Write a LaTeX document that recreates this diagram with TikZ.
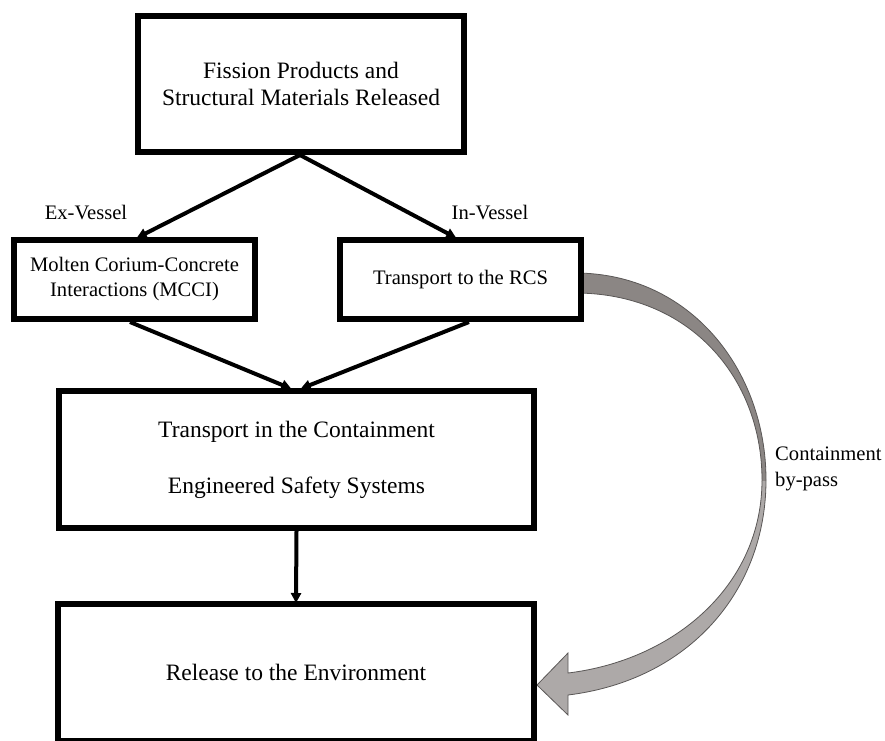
\documentclass[tikz,border=0pt]{standalone}
\usepackage{fontspec}
\setmainfont{Liberation Serif}
\usetikzlibrary{arrows.meta}
\definecolor{bpdark}{HTML}{8B8684}
\definecolor{bplight}{HTML}{ADA9A8}
\definecolor{bpedge}{HTML}{5A5756}
\tikzset{
  box/.style={draw=black, line width=6pt, fill=white, rectangle, align=center, inner sep=0pt},
  bigtxt/.style={font=\fontsize{23.5}{27}\selectfont},
  smalltxt/.style={font=\fontsize{20.6}{25}\selectfont},
  arr/.style={line width=4pt, -{Triangle[length=10pt,width=10pt]}, shorten >=-2pt},
  lbl/.style={font=\fontsize{20.6}{26}\selectfont, inner sep=0pt},
}
\def\bypasspath{(575,273) .. controls (690,273) and (766,370) .. (766,480)
  .. controls (766,590) and (690,680) .. (568,695)
  -- (568,715) -- (537,685) -- (568,653) -- (568,673)
  .. controls (675,660) and (762,585) .. (762,480)
  .. controls (762,378) and (690,293) .. (575,293) -- cycle}
\begin{document}
\begin{tikzpicture}[x=1pt,y=-1pt]
\useasboundingbox (0,0) rectangle (885,740);
\clip (0,0) rectangle (885,740);
% containment by-pass arrow (behind the boxes)
\begin{scope}
  \clip (0,0) rectangle (885,481);
  \fill[bpdark] \bypasspath;
\end{scope}
\begin{scope}
  \clip (0,481) rectangle (885,740);
  \fill[bplight] \bypasspath;
\end{scope}
\draw[bpedge, line width=0.8pt, line join=miter] \bypasspath;

\node[box, bigtxt, minimum width=326pt, minimum height=136pt] (top) at (301,84)
  {Fission Products and\\Structural Materials Released};
\node[box, smalltxt, minimum width=241pt, minimum height=79pt] (mcci) at (134.5,279.5)
  {Molten Corium-Concrete\\Interactions (MCCI)};
\node[box, smalltxt, minimum width=241pt, minimum height=79pt] (rcs) at (460.5,279.5)
  {Transport to the RCS};
\node[box, font=\fontsize{23.5}{56}\selectfont, minimum width=475pt, minimum height=137pt] (cont) at (296.5,459.5)
  {Transport in the Containment\\Engineered Safety Systems};
\node[box, bigtxt, minimum width=476pt, minimum height=137pt] (rel) at (296,672.5)
  {Release to the Environment};

\node[lbl] (exv) at (86,213) {Ex-Vessel};
\node[lbl] (inv) at (490,213) {In-Vessel};
\node[lbl, anchor=west, align=left] (byp) at (775,469) {Containment\\by-pass};

\draw[arr] ([xshift=-1pt]top.south) -- ([xshift=4pt]mcci.north);
\draw[arr] ([xshift=-1pt]top.south) -- ([xshift=-6pt]rcs.north);
\draw[arr] ([xshift=-4.5pt]mcci.south) -- ([xshift=-7pt]cont.north);
\draw[arr] ([xshift=8.5pt]rcs.south) -- ([xshift=6pt]cont.north);
\draw[arr] (cont.south) -- (rel.north);
\end{tikzpicture}
\end{document}
